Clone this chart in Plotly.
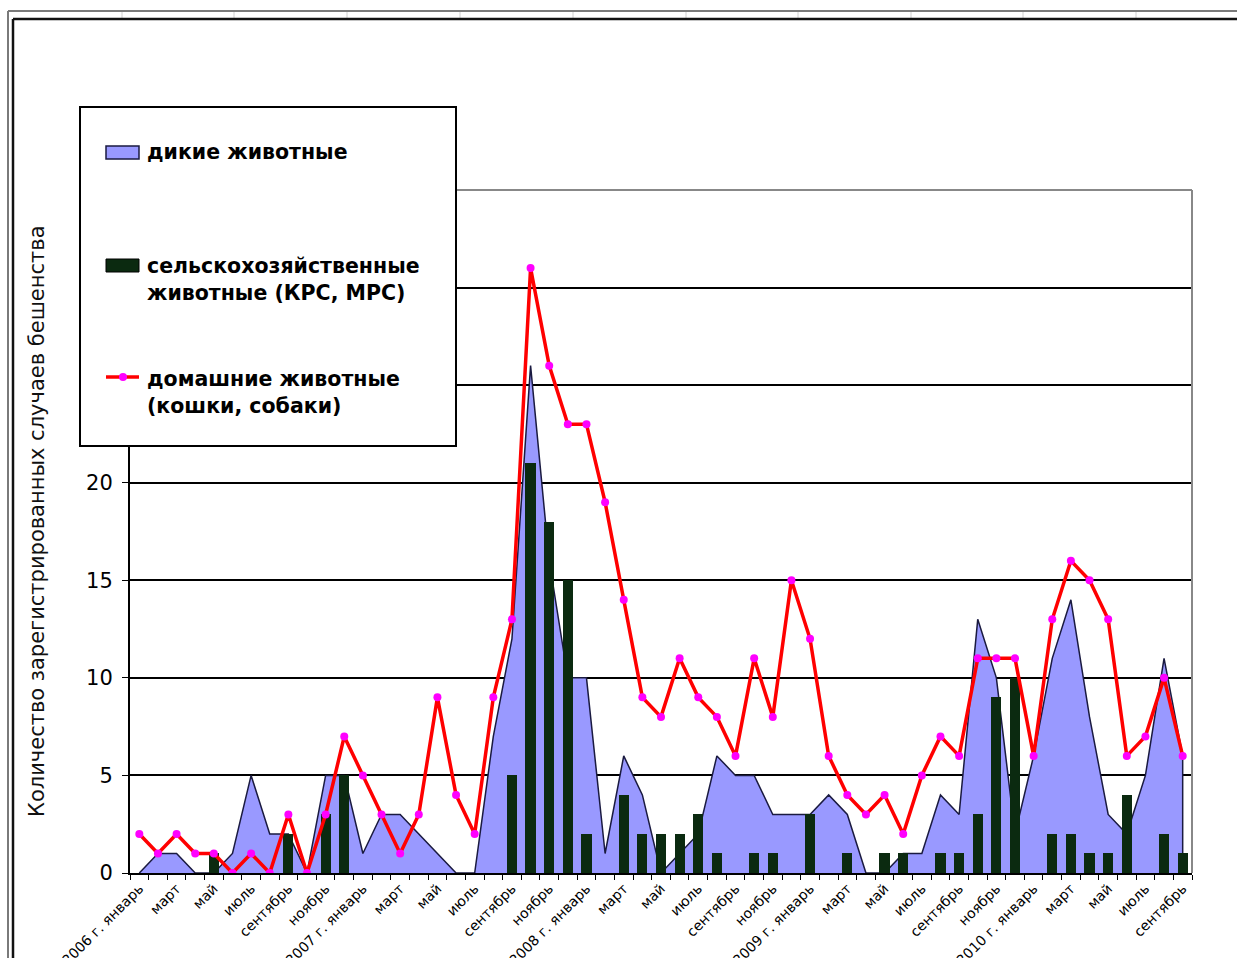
import plotly.graph_objects as go

# ---- canvas geometry (pixels) ----
W, H = 1237, 958
ML, MR, MT, MB = 130, 45, 190, 85
PW = W - ML - MR
PH = H - MT - MB


def px(x):
    """pixel column -> paper x"""
    return (x - ML) / PW


def py(y):
    """pixel row -> paper y"""
    return (H - MB - y) / PH


# ---- data: monthly rabies cases, January 2006 .. September 2010 ----
tick_labels = [
    "2006 г. январь", "март", "май", "июль", "сентябрь", "ноябрь",
    "2007 г. январь", "март", "май", "июль", "сентябрь", "ноябрь",
    "2008 г. январь", "март", "май", "июль", "сентябрь", "ноябрь",
    "2009 г. январь", "март", "май", "июль", "сентябрь", "ноябрь",
    "2010 г. январь", "март", "май", "июль", "сентябрь",
]

wild = [0, 1, 1, 0, 0, 1, 5, 2, 2, 0, 5, 5,
        1, 3, 3, 2, 1, 0, 0, 7, 12, 26, 16, 10,
        10, 1, 6, 4, 0, 1, 2, 6, 5, 5, 3, 3,
        3, 4, 3, 0, 0, 1, 1, 4, 3, 13, 10, 2,
        6, 11, 14, 8, 3, 2, 5, 11, 6]

farm = [0, 0, 0, 0, 1, 0, 0, 0, 2, 0, 3, 5,
        0, 0, 0, 0, 0, 0, 0, 0, 5, 21, 18, 15,
        2, 0, 4, 2, 2, 2, 3, 1, 0, 1, 1, 0,
        3, 0, 1, 0, 1, 1, 0, 1, 1, 3, 9, 10,
        0, 2, 2, 1, 1, 4, 0, 2, 1]

domestic = [2, 1, 2, 1, 1, 0, 1, 0, 3, 0, 3, 7,
            5, 3, 1, 3, 9, 4, 2, 9, 13, 31, 26, 23,
            23, 19, 14, 9, 8, 11, 9, 8, 6, 11, 8, 15,
            12, 6, 4, 3, 4, 2, 5, 7, 6, 11, 11, 11,
            6, 13, 16, 15, 13, 6, 7, 10, 6]

series_names = [
    "дикие животные",
    "сельскохозяйственные<br>животные (КРС, МРС)",
    "домашние животные<br>(кошки, собаки)",
]

x = list(range(len(domestic)))
X_RANGE = [-0.5, len(x) - 0.5]
Y_RANGE = [0, 35]

WILD_FILL = "#9999FF"
WILD_LINE = "#1a1a40"
FARM_FILL = "#0b2a10"
DOM_LINE = "#FF0000"
DOM_MARK = "#FF00FF"
FONT = "DejaVu Sans"

fig = go.Figure()

# wild animals: filled area (closed down to zero at the last month)
fig.add_trace(go.Scatter(
    x=x + [x[-1]], y=wild + [0],
    mode="lines", fill="tozeroy", fillcolor=WILD_FILL,
    line=dict(color=WILD_LINE, width=1.5),
    name=series_names[0], showlegend=False, hoverinfo="skip",
    xaxis="x", yaxis="y",
))

# farm animals: columns, on an overlaid subplot so they sit above the area
fig.add_trace(go.Bar(
    x=x, y=farm, width=0.55,
    marker=dict(color=FARM_FILL, line=dict(width=0)),
    name=series_names[1], showlegend=False,
    xaxis="x2", yaxis="y2",
))

# domestic animals: red line with magenta markers
fig.add_trace(go.Scatter(
    x=x, y=domestic, mode="lines+markers",
    line=dict(color=DOM_LINE, width=3.5),
    marker=dict(color=DOM_MARK, size=8),
    name=series_names[2], showlegend=False,
    xaxis="x2", yaxis="y2",
))

shapes = []

# plot-area frame (top and right)
shapes.append(dict(type="line", xref="paper", yref="paper", x0=0, x1=1, y0=1, y1=1,
                   line=dict(color="#888888", width=2), layer="above"))
shapes.append(dict(type="line", xref="paper", yref="paper", x0=1, x1=1, y0=0, y1=1,
                   line=dict(color="#888888", width=2), layer="above"))

# legend box
shapes.append(dict(type="rect", xref="paper", yref="paper",
                   x0=px(80), x1=px(456), y0=py(446), y1=py(107),
                   fillcolor="white", line=dict(color="black", width=2), layer="above"))
# legend keys
shapes.append(dict(type="rect", xref="paper", yref="paper",
                   x0=px(106), x1=px(139), y0=py(159), y1=py(146),
                   fillcolor=WILD_FILL, line=dict(color=WILD_LINE, width=1.5), layer="above"))
shapes.append(dict(type="rect", xref="paper", yref="paper",
                   x0=px(106), x1=px(139), y0=py(272), y1=py(259),
                   fillcolor=FARM_FILL, line=dict(color="#000000", width=1), layer="above"))
shapes.append(dict(type="line", xref="paper", yref="paper",
                   x0=px(106), x1=px(139), y0=py(377), y1=py(377),
                   line=dict(color=DOM_LINE, width=3.5), layer="above"))
shapes.append(dict(type="circle", xref="paper", yref="paper",
                   x0=px(119), x1=px(127), y0=py(381), y1=py(373),
                   fillcolor=DOM_MARK, line=dict(width=0), layer="above"))

# outer sheet frame
shapes.append(dict(type="line", xref="paper", yref="paper",
                   x0=px(8), x1=px(8), y0=py(11), y1=py(H + 5),
                   line=dict(color="#7a7a7a", width=2), layer="above"))
shapes.append(dict(type="line", xref="paper", yref="paper",
                   x0=px(8), x1=px(W + 5), y0=py(11), y1=py(11),
                   line=dict(color="#7a7a7a", width=2), layer="above"))
for sx in [122, 234, 347, 460, 573, 686, 798, 911, 1023, 1136]:
    shapes.append(dict(type="line", xref="paper", yref="paper",
                       x0=px(sx), x1=px(sx), y0=py(12), y1=py(18),
                       line=dict(color="#d0d0d0", width=1), layer="above"))
shapes.append(dict(type="line", xref="paper", yref="paper",
                   x0=px(13), x1=px(13), y0=py(19), y1=py(H + 5),
                   line=dict(color="#111111", width=2.5), layer="above"))
shapes.append(dict(type="line", xref="paper", yref="paper",
                   x0=px(13), x1=px(W + 5), y0=py(19), y1=py(19),
                   line=dict(color="#111111", width=2.5), layer="above"))

annotations = []
for label, cy in zip(series_names, [152, 279, 392]):
    annotations.append(dict(
        xref="paper", yref="paper", x=px(145), y=py(cy),
        xanchor="left", yanchor="middle", align="left", showarrow=False,
        text="<b>" + label + "</b>",
        font=dict(family=FONT, size=20.5, color="black"),
    ))

annotations.append(dict(
    xref="paper", yref="paper", x=px(37), y=py(819),
    xanchor="center", yanchor="bottom", showarrow=False, textangle=-90,
    text="Количество зарегистрированных случаев бешенства",
    font=dict(family=FONT, size=21, color="#111111"),
))

fig.update_layout(
    width=W, height=H,
    margin=dict(l=ML, r=MR, t=MT, b=MB, autoexpand=False),
    paper_bgcolor="white", plot_bgcolor="white",
    showlegend=False, bargap=0,
    xaxis=dict(
        range=X_RANGE, tickmode="array", automargin=False,
        tickvals=list(range(0, len(x), 2)), ticktext=tick_labels,
        tickangle=-45, ticks="", showgrid=False, zeroline=False,
        showline=True, linecolor="black", linewidth=2,
        tickfont=dict(family=FONT, size=14, color="black"),
        minor=dict(tickmode="linear", tick0=-0.5, dtick=1, ticks="outside",
                   ticklen=5, tickwidth=1, tickcolor="black", showgrid=False),
    ),
    yaxis=dict(
        range=Y_RANGE, tickmode="array", tickvals=[0, 5, 10, 15, 20, 25, 30],
        automargin=False,
        ticks="outside", ticklen=6, tickwidth=1, tickcolor="black",
        ticklabelstandoff=5,
        showgrid=True, gridcolor="#000000", gridwidth=1.5, zeroline=False,
        showline=True, linecolor="black", linewidth=2,
        tickfont=dict(family=FONT, size=21, color="black"),
    ),
    xaxis2=dict(range=X_RANGE, overlaying="x", anchor="y2", visible=False),
    yaxis2=dict(range=Y_RANGE, overlaying="y", anchor="x2", visible=False),
    shapes=shapes,
    annotations=annotations,
)

fig.write_html("out.html")
